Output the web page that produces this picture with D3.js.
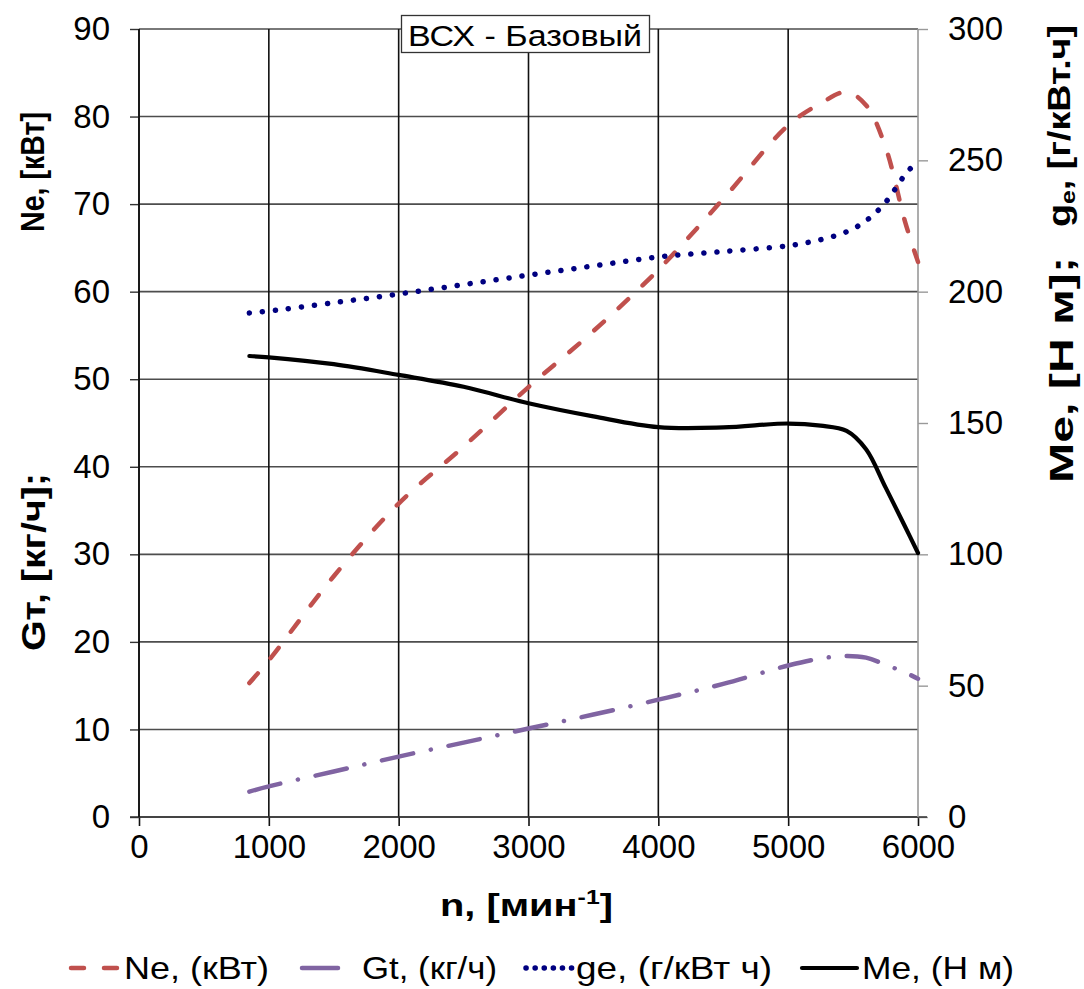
<!DOCTYPE html>
<html>
<head>
<meta charset="utf-8">
<script src="https://cdn.jsdelivr.net/npm/d3@7"></script>
<style>
  body { margin: 0; background: #fff; }
  text { font-family: "Liberation Sans", Arial, sans-serif; }
</style>
</head>
<body>
<div id="vis"></div>
<script>
// engine speed, rpm
var rpm = [850, 1000, 1500, 2000, 2500, 3000, 3500, 4000, 4500, 5000, 5250, 5450, 5600, 5750, 5900, 6000];
// left axis series
var neValues = [15.3, 17.9, 27.5, 35.8, 42.3, 49.1, 55.5, 62.5, 70.6, 79.0, 81.5, 82.8, 81.3, 76.5, 68.0, 63.4];
var gtValues = [2.9, 3.5, 5.2, 6.9, 8.5, 10.1, 11.7, 13.4, 15.2, 17.3, 18.1, 18.4, 18.2, 17.4, 16.5, 15.8];
// right axis series
var geValues = [191.9, 192.6, 195.8, 199.1, 202.7, 206.3, 209.8, 213.2, 215.3, 217.5, 219.8, 222.8, 227.0, 234.0, 244.5, 250.0];
var meValues = [175.5, 175.0, 172.4, 168.3, 163.8, 157.5, 152.5, 148.4, 148.3, 149.8, 149.0, 147.0, 140.0, 125.5, 110.6, 100.5];

var xTicks = [0, 1000, 2000, 3000, 4000, 5000, 6000];
var leftTicks = [0, 10, 20, 30, 40, 50, 60, 70, 80, 90];
var rightTicks = [0, 50, 100, 150, 200, 250, 300];

var legendNames = ["Ne, (кВт)", "Gt, (кг/ч)", "ge, (г/кВт ч)", "Me, (Н м)"];

var margin = {top: 29, right: 166, bottom: 172, left: 139},
    width = 1084 - margin.left - margin.right,
    height = 989 - margin.top - margin.bottom;

var x = d3.scaleLinear().domain([0, 6000]).range([0, width]);
var yL = d3.scaleLinear().domain([0, 90]).range([height, 0]);
var yR = d3.scaleLinear().domain([0, 300]).range([height, 0]);

var svg = d3.select("#vis").append("svg")
    .attr("width", 1084)
    .attr("height", 989);

var g = svg.append("g")
    .attr("transform", "translate(" + margin.left + "," + margin.top + ")");

// horizontal grid
g.append("g")
  .selectAll("line")
  .data(leftTicks)
  .enter().append("line")
  .attr("x1", 0).attr("x2", width)
  .attr("y1", function(d) { return yL(d); })
  .attr("y2", function(d) { return yL(d); })
  .attr("stroke", "#4d4d4d")
  .attr("stroke-width", 1.6);

// vertical grid
g.append("g")
  .selectAll("line")
  .data(xTicks.slice(0, -1))
  .enter().append("line")
  .attr("y1", 0).attr("y2", height)
  .attr("x1", function(d) { return x(d); })
  .attr("x2", function(d) { return x(d); })
  .attr("stroke", "#111")
  .attr("stroke-width", 1.6);

// axes
var xAxis = g.append("g")
  .attr("transform", "translate(0," + height + ")")
  .call(d3.axisBottom(x).tickValues(xTicks).tickSize(9).tickPadding(9).tickFormat(d3.format("d")));

var leftAxis = g.append("g")
  .call(d3.axisLeft(yL).tickValues(leftTicks).tickSize(9).tickPadding(20));

var rightAxis = g.append("g")
  .attr("transform", "translate(" + width + ",0)")
  .call(d3.axisRight(yR).tickValues(rightTicks).tickSize(10).tickPadding(20));

[xAxis, leftAxis, rightAxis].forEach(function(a) {
  a.select(".domain").remove();
  a.selectAll("text").attr("font-size", 33).attr("fill", "#000")
    .attr("font-family", "'Liberation Sans', Arial, sans-serif");
});
xAxis.selectAll("line").attr("stroke", "#111").attr("stroke-width", 1.6);
leftAxis.selectAll("line").attr("stroke", "#333").attr("stroke-width", 1.4);
rightAxis.selectAll("line").attr("stroke", "#999").attr("stroke-width", 1.4);

// axis lines
g.append("line").attr("x1", -9).attr("x2", width + 9).attr("y1", height).attr("y2", height)
  .attr("stroke", "#333").attr("stroke-width", 1.6);
g.append("line").attr("x1", width).attr("x2", width).attr("y1", 0).attr("y2", height)
  .attr("stroke", "#999").attr("stroke-width", 1.6);
g.append("line").attr("x1", 0).attr("x2", 0).attr("y1", 0).attr("y2", height)
  .attr("stroke", "#111").attr("stroke-width", 1.6);

// series
var series = [
  {name: legendNames[0], values: neValues, y: yL, color: "#c0504d", width: 4.5, dash: "13,20"},
  {name: legendNames[1], values: gtValues, y: yL, color: "#8064a2", width: 4.5, dash: "32,18,0.1,18"},
  {name: legendNames[2], values: geValues, y: yR, color: "#000080", width: 5.5, dash: "0.1,13"},
  {name: legendNames[3], values: meValues, y: yR, color: "#000000", width: 4.2, dash: null}
];

series.forEach(function(s) {
  var line = d3.line()
    .curve(d3.curveCatmullRom.alpha(0.5))
    .x(function(d, i) { return x(rpm[i]); })
    .y(function(d) { return s.y(d); });
  g.append("path")
    .datum(s.values)
    .attr("fill", "none")
    .attr("stroke", s.color)
    .attr("stroke-width", s.width)
    .attr("stroke-linecap", "round")
    .attr("stroke-dasharray", s.dash)
    .attr("d", line);
});

// title box
var title = svg.append("g");
title.append("rect")
  .attr("x", 401.5).attr("y", 15.5).attr("width", 248).attr("height", 37)
  .attr("fill", "#fff").attr("stroke", "#333").attr("stroke-width", 1.3);
title.append("text")
  .attr("x", 408).attr("y", 46)
  .attr("font-size", 30)
  .attr("textLength", 234).attr("lengthAdjust", "spacingAndGlyphs")
  .text("ВСХ - Базовый");

// axis titles
svg.append("text")
  .attr("x", 440).attr("y", 916)
  .attr("font-size", 32).attr("font-weight", "bold")
  .attr("textLength", 173).attr("lengthAdjust", "spacingAndGlyphs")
  .html("n, [мин<tspan dy='-12' font-size='20'>-1</tspan><tspan dy='12'>]</tspan>");

function rotLabel(bx, cy, len, size, txt, isHtml) {
  var t = svg.append("text")
    .attr("transform", "translate(" + bx + "," + cy + ") rotate(-90)")
    .attr("x", -len / 2)
    .attr("font-size", size).attr("font-weight", "bold")
    .attr("textLength", len).attr("lengthAdjust", "spacingAndGlyphs");
  if (isHtml) t.html(txt); else t.text(txt);
}

rotLabel(44, 172, 120, 33, "Ne, [кВт]");
rotLabel(45, 562, 178, 33, "Gт, [кг/ч];");
rotLabel(1073, 370, 226, 33, "Me, [Н м];");
rotLabel(1070, 126, 202, 32, "g<tspan dy='5' font-size='21'>e</tspan><tspan dy='-5'>, [г/кВт.ч]</tspan>", true);

// legend
var legendX = [69, 300, 524, 800];
var legendTextX = [124, 362, 576, 862];
var legendTextLen = [145, 135, 196, 152];
var legend = svg.append("g").attr("transform", "translate(0,968)");
series.forEach(function(s, i) {
  legend.append("line")
    .attr("x1", legendX[i] + 2).attr("x2", legendX[i] + (i === 3 ? 57 : 52))
    .attr("y1", 0).attr("y2", 0)
    .attr("stroke", s.color)
    .attr("stroke-width", s.width)
    .attr("stroke-linecap", "round")
    .attr("stroke-dasharray", i === 1 ? "36,17,0.1,30" : (i === 0 ? "13,20" : (i === 2 ? "0.1,9" : null)));
  legend.append("text")
    .attr("x", legendTextX[i]).attr("y", 11)
    .attr("font-size", 32)
    .attr("textLength", legendTextLen[i]).attr("lengthAdjust", "spacingAndGlyphs")
    .text(s.name);
});
</script>
</body>
</html>
